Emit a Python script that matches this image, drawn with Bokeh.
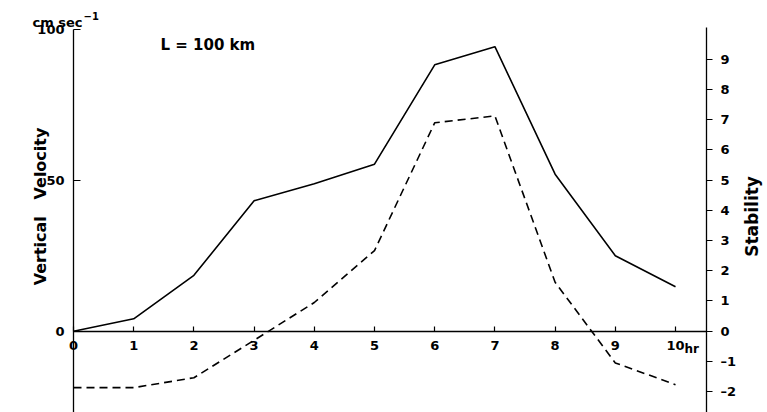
import math
from bokeh.plotting import figure
from bokeh.models import LinearAxis, Range1d, FixedTicker, Label
from bokeh.embed import file_html
from bokeh.resources import INLINE

# ---- data ----
hours = [0, 1, 2, 3, 4, 5, 6, 7, 8, 9, 10]
velocity = [0, 4.1, 18.5, 43.2, 48.8, 55.3, 88.2, 94.2, 52.0, 25.0, 14.7]
stability = [-1.87, -1.87, -1.54, -0.30, 0.95, 2.67, 6.90, 7.13, 1.62, -1.05, -1.77]

x_ticks = list(range(0, 11))
vel_ticks = [0, 50, 100]
stab_ticks = list(range(-2, 10))
stab_labels = {t: ("\u2013" + str(-t) if t < 0 else str(t)) for t in stab_ticks}

FONT = "DejaVu Sans"
X_END = 10.515          # hour position of the right (stability) axis

p = figure(width=767, height=412, output_backend="svg", toolbar_location=None,
           x_range=Range1d(-1.2126, 11.528), y_range=Range1d(-26.92, 109.5),
           min_border_left=0, min_border_right=0, min_border_top=0, min_border_bottom=0)
p.outline_line_color = None
p.grid.visible = False
p.background_fill_color = "white"
p.extra_y_ranges = {"stab": Range1d(-2.692, 10.95)}


def style(ax, size="13px"):
    ax.minor_tick_line_color = None
    ax.axis_line_width = 1.3
    ax.major_tick_line_width = 1.2
    ax.major_label_text_font = FONT
    ax.major_label_text_font_style = "bold"
    ax.major_label_text_font_size = size
    ax.major_label_text_color = "black"


# x axis along y = 0
xa = p.xaxis[0]
xa.fixed_location = 0
xa.bounds = (0, X_END)
xa.ticker = FixedTicker(ticks=x_ticks)
xa.major_tick_in = 5
xa.major_tick_out = 0
xa.major_label_standoff = 10
style(xa)

# left (velocity) axis along x = 0
ya = p.yaxis[0]
ya.fixed_location = 0
ya.bounds = (-30, 100)
ya.ticker = FixedTicker(ticks=vel_ticks)
ya.major_tick_in = 7
ya.major_tick_out = 0
ya.major_label_standoff = 9
style(ya)

# right (stability) axis
ra = LinearAxis(y_range_name="stab", ticker=FixedTicker(ticks=stab_ticks))
ra.fixed_location = X_END
ra.bounds = (-3, 10.06)
ra.major_label_overrides = stab_labels
ra.major_tick_in = 0
ra.major_tick_out = 6
ra.major_label_standoff = 8
style(ra)
p.add_layout(ra, "right")

# lines
p.line(hours, velocity, line_color="black", line_width=1.6)
p.line(hours, stability, y_range_name="stab", line_color="black",
       line_width=1.6, line_dash="8 5")

# texts
TXT = dict(text_font=FONT, text_font_style="bold", text_color="black")
p.add_layout(Label(x=1.445, y=94.6, text="L = 100 km", text_font_size="15px",
                   text_baseline="alphabetic", text_align="left", **TXT))
p.add_layout(Label(x=-0.681, y=102.2, text="cm sec", text_font_size="13px",
                   text_align="left", text_baseline="alphabetic", **TXT))
p.add_layout(Label(x=-0.681, y=102.2, x_offset=51, y_offset=7, text="\u22121",
                   text_font_size="10px", text_align="left",
                   text_baseline="alphabetic", **TXT))
p.add_layout(Label(x=10.15, y=-6.0, text="hr", text_font_size="12px",
                   text_align="left", text_baseline="alphabetic", **TXT))
p.add_layout(Label(x=-0.548, y=41.3, text="Vertical\u00a0\u00a0\u00a0Velocity",
                   angle=math.pi / 2, text_font_size="16px",
                   text_align="center", text_baseline="middle", **TXT))
p.add_layout(Label(x=11.27, y=38.0, text="Stability",
                   angle=math.pi / 2, text_font_size="17px",
                   text_align="center", text_baseline="middle", **TXT))

open("out.html", "w").write(file_html(p, INLINE))
